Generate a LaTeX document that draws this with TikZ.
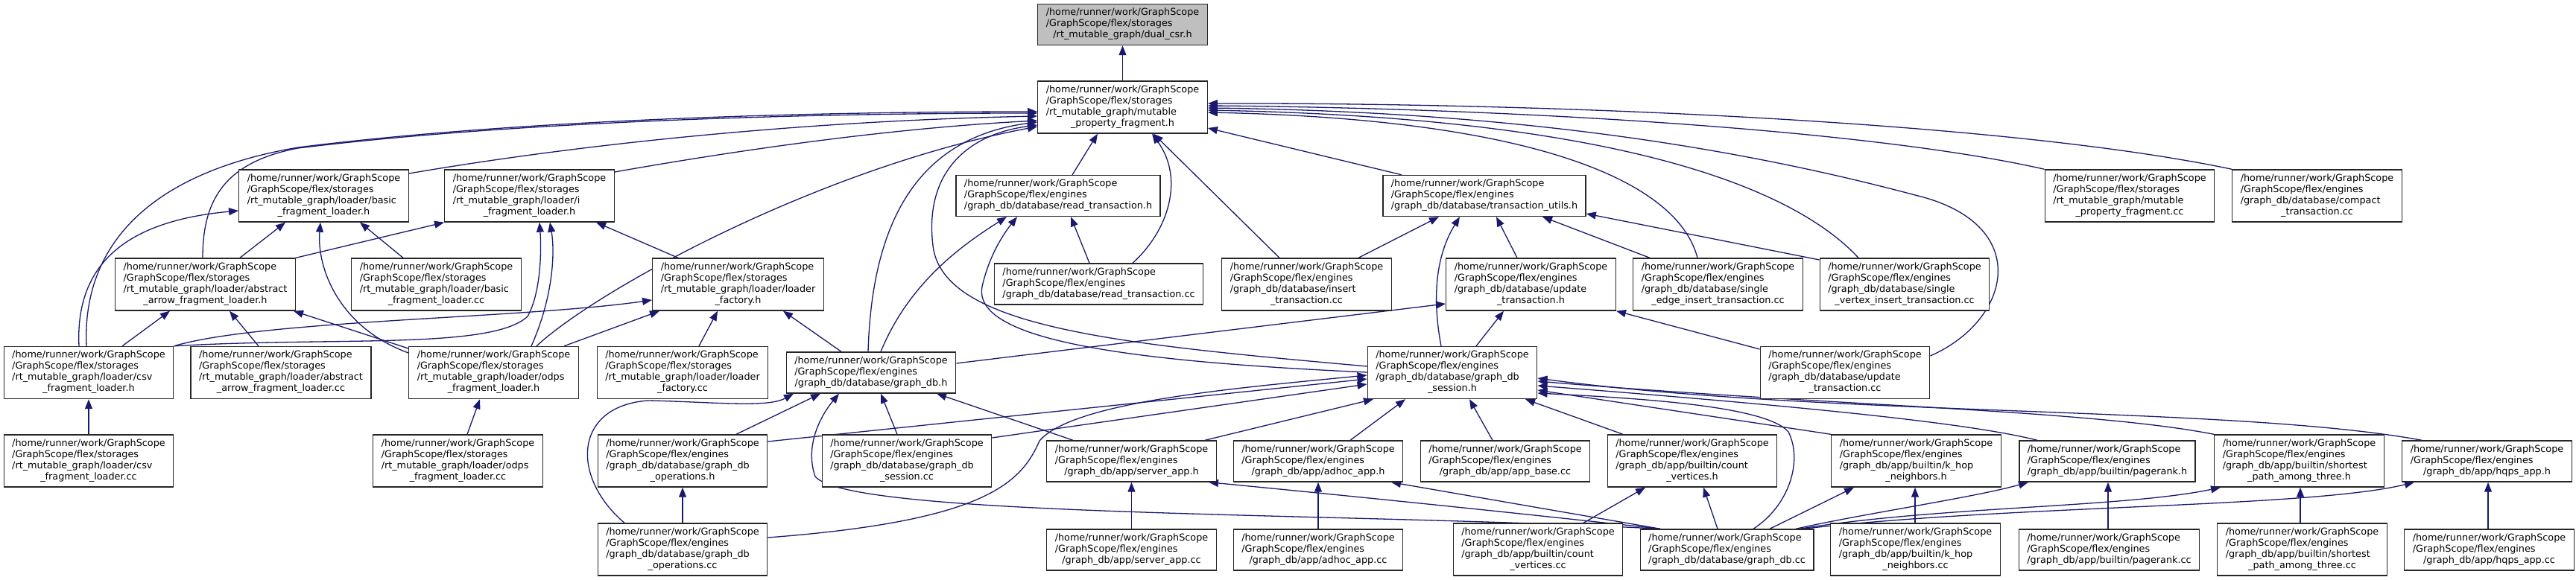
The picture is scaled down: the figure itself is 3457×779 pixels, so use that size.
\documentclass[tikz,border=0pt]{standalone}
\usepackage{fontspec}
\setmainfont{DejaVu Sans}
\usepackage{tikz}
\usetikzlibrary{arrows.meta,calc,backgrounds}
\definecolor{edgec}{RGB}{25,25,112}
\definecolor{hlfill}{RGB}{191,191,191}
\newcommand{\gs}{/home/runner/work/GraphScope}
\newcommand{\fst}{/GraphScope/flex/storages}
\newcommand{\fen}{/GraphScope/flex/engines}
\newcommand{\fpath}[1]{\begin{tabular}{@{}l@{}}#1\end{tabular}}
\newcommand{\lastln}[1]{\multicolumn{1}{@{}c@{}}{#1}}
\tikzset{
  file/.style={draw=black!85,line width=0.7pt,fill=white,inner xsep=5.5pt,inner ysep=2.5pt,
    font=\fontsize{6.4}{7.5}\selectfont},
  cur/.style={file,fill=hlfill},
}

\begin{document}
\begin{tikzpicture}[x=0.5pt,y=-0.5pt,
  ar/.style={-{Triangle[length=6.5pt,width=5pt]},draw=edgec,line width=0.65pt}]
  \useasboundingbox (0,0) rectangle (3457,779);
  % headers and sources, one row per rank
  \node[cur] (dualcsr) at (1506.5,33) {\fpath{\gs\\\fst\\\lastln{/rt\_mutable\_graph/dual\_csr.h}}};
  \node[file] (mpf) at (1506.5,144) {\fpath{\gs\\\fst\\/rt\_mutable\_graph/mutable\\\lastln{\_property\_fragment.h}}};

  \node[file] (basicH) at (434.5,263) {\fpath{\gs\\\fst\\/rt\_mutable\_graph/loader/basic\\\lastln{\_fragment\_loader.h}}};
  \node[file] (iflH) at (710.5,263) {\fpath{\gs\\\fst\\/rt\_mutable\_graph/loader/i\\\lastln{\_fragment\_loader.h}}};
  \node[file] (rtH) at (1420,263) {\fpath{\gs\\\fen\\\lastln{/graph\_db/database/read\_transaction.h}}};
  \node[file] (tuH) at (1992,263) {\fpath{\gs\\\fen\\\lastln{/graph\_db/database/transaction\_utils.h}}};
  \node[file] (mpfCC) at (2858,263) {\fpath{\gs\\\fst\\/rt\_mutable\_graph/mutable\\\lastln{\_property\_fragment.cc}}};
  \node[file] (compactCC) at (3109.5,263) {\fpath{\gs\\\fen\\/graph\_db/database/compact\\\lastln{\_transaction.cc}}};

  \node[file] (abstractH) at (275.5,382) {\fpath{\gs\\\fst\\/rt\_mutable\_graph/loader/abstract\\\lastln{\_arrow\_fragment\_loader.h}}};
  \node[file] (basicCC) at (585.5,382) {\fpath{\gs\\\fst\\/rt\_mutable\_graph/loader/basic\\\lastln{\_fragment\_loader.cc}}};
  \node[file] (lfH) at (990.5,382) {\fpath{\gs\\\fst\\/rt\_mutable\_graph/loader/loader\\\lastln{\_factory.h}}};
  \node[file] (rtCC) at (1474.5,381.5) {\fpath{\gs\\\fen\\\lastln{/graph\_db/database/read\_transaction.cc}}};
  \node[file] (insertCC) at (1753.5,382) {\fpath{\gs\\\fen\\/graph\_db/database/insert\\\lastln{\_transaction.cc}}};
  \node[file] (updateH) at (2054.5,382) {\fpath{\gs\\\fen\\/graph\_db/database/update\\\lastln{\_transaction.h}}};
  \node[file] (seCC) at (2305.5,382) {\fpath{\gs\\\fen\\/graph\_db/database/single\\\lastln{\_edge\_insert\_transaction.cc}}};
  \node[file] (svCC) at (2556,382) {\fpath{\gs\\\fen\\/graph\_db/database/single\\\lastln{\_vertex\_insert\_transaction.cc}}};

  \node[file] (csvH) at (119,500.5) {\fpath{\gs\\\fst\\/rt\_mutable\_graph/loader/csv\\\lastln{\_fragment\_loader.h}}};
  \node[file] (abstractCC) at (377,500.5) {\fpath{\gs\\\fst\\/rt\_mutable\_graph/loader/abstract\\\lastln{\_arrow\_fragment\_loader.cc}}};
  \node[file] (odpsH) at (662.5,500.5) {\fpath{\gs\\\fst\\/rt\_mutable\_graph/loader/odps\\\lastln{\_fragment\_loader.h}}};
  \node[file] (lfCC) at (916,500.5) {\fpath{\gs\\\fst\\/rt\_mutable\_graph/loader/loader\\\lastln{\_factory.cc}}};
  \node[file] (gdbH) at (1169,500.5) {\fpath{\gs\\\fen\\\lastln{/graph\_db/database/graph\_db.h}}};
  \node[file] (sessH) at (1949,500.5) {\fpath{\gs\\\fen\\/graph\_db/database/graph\_db\\\lastln{\_session.h}}};
  \node[file] (updateCC) at (2476,500.5) {\fpath{\gs\\\fen\\/graph\_db/database/update\\\lastln{\_transaction.cc}}};

  \node[file] (csvCC) at (119,619) {\fpath{\gs\\\fst\\/rt\_mutable\_graph/loader/csv\\\lastln{\_fragment\_loader.cc}}};
  \node[file] (odpsCC) at (614.5,619) {\fpath{\gs\\\fst\\/rt\_mutable\_graph/loader/odps\\\lastln{\_fragment\_loader.cc}}};
  \node[file] (opsH) at (916,619) {\fpath{\gs\\\fen\\/graph\_db/database/graph\_db\\\lastln{\_operations.h}}};
  \node[file] (sessCC) at (1217,619) {\fpath{\gs\\\fen\\/graph\_db/database/graph\_db\\\lastln{\_session.cc}}};
  \node[file] (serverH) at (1518.5,619.5) {\fpath{\gs\\\fen\\\lastln{/graph\_db/app/server\_app.h}}};
  \node[file] (adhocH) at (1769,619.5) {\fpath{\gs\\\fen\\\lastln{/graph\_db/app/adhoc\_app.h}}};
  \node[file] (appbaseCC) at (2020,619.5) {\fpath{\gs\\\fen\\\lastln{/graph\_db/app/app\_base.cc}}};
  \node[file] (countH) at (2271,619) {\fpath{\gs\\\fen\\/graph\_db/app/builtin/count\\\lastln{\_vertices.h}}};
  \node[file] (khopH) at (2571.5,619) {\fpath{\gs\\\fen\\/graph\_db/app/builtin/k\_hop\\\lastln{\_neighbors.h}}};
  \node[file] (pagerankH) at (2828,619.5) {\fpath{\gs\\\fen\\\lastln{/graph\_db/app/builtin/pagerank.h}}};
  \node[file] (shortestH) at (3085.5,619) {\fpath{\gs\\\fen\\/graph\_db/app/builtin/shortest\\\lastln{\_path\_among\_three.h}}};
  \node[file] (hqpsH) at (3337.5,619.5) {\fpath{\gs\\\fen\\\lastln{/graph\_db/app/hqps\_app.h}}};

  \node[file] (opsCC) at (916,738) {\fpath{\gs\\\fen\\/graph\_db/database/graph\_db\\\lastln{\_operations.cc}}};
  \node[file] (serverCC) at (1518.5,738.5) {\fpath{\gs\\\fen\\\lastln{/graph\_db/app/server\_app.cc}}};
  \node[file] (adhocCC) at (1769,738.5) {\fpath{\gs\\\fen\\\lastln{/graph\_db/app/adhoc\_app.cc}}};
  \node[file] (countCC) at (2064,738) {\fpath{\gs\\\fen\\/graph\_db/app/builtin/count\\\lastln{\_vertices.cc}}};
  \node[file] (gdbCC) at (2317.5,738.5) {\fpath{\gs\\\fen\\\lastln{/graph\_db/database/graph\_db.cc}}};
  \node[file] (khopCC) at (2570.5,738) {\fpath{\gs\\\fen\\/graph\_db/app/builtin/k\_hop\\\lastln{\_neighbors.cc}}};
  \node[file] (pagerankCC) at (2830.5,738.5) {\fpath{\gs\\\fen\\\lastln{/graph\_db/app/builtin/pagerank.cc}}};
  \node[file] (shortestCC) at (3089.5,738) {\fpath{\gs\\\fen\\/graph\_db/app/builtin/shortest\\\lastln{\_path\_among\_three.cc}}};
  \node[file] (hqpsCC) at (3340.5,738.5) {\fpath{\gs\\\fen\\\lastln{/graph\_db/app/hqps\_app.cc}}};

  \begin{scope}[on background layer]
  \draw[ar] (mpf) -- (dualcsr);
  % into mutable_property_fragment.h
  \draw[ar] (csvH.north -| 116,0) .. controls (110,330) and (200,232) .. (400,198) .. controls (700,160) and (1100,150) .. (mpf.west |- 0,150);
  \draw[ar] (abstractH.north -| 272,0) .. controls (272,270) and (300,218) .. (400,199) .. controls (700,162) and (1100,152) .. (mpf.west |- 0,152);
  \draw[ar] (basicH.east |- 0,233) .. controls (800,190) and (1100,162) .. (mpf.west |- 0,156);
  \draw[ar] (iflH.east |- 0,231) .. controls (1000,200) and (1200,172) .. (mpf.west |- 0,162);
  \draw[ar] (odpsH.north -| 720,0) .. controls (800,390) and (1100,225) .. (mpf.west |- 0,170);
  \draw[ar] (gdbH.north -| 1165,0) .. controls (1170,300) and (1230,185) .. (mpf.west |- 0,164);
  \draw[ar] (sessH.west |- 0,492) .. controls (1500,462) and (1265,440) .. (1252,330) .. controls (1240,230) and (1300,180) .. (mpf.west |- 0,168);
  \draw[ar] (rtH.north -| 1439,0) -- (mpf.south -| 1473,0);
  \draw[ar] (rtCC.north -| 1520,0) .. controls (1568,310) and (1590,240) .. (mpf.south -| 1546,0);
  \draw[ar] (insertCC.north -| 1717,0) -- (mpf.south -| 1548,0);
  \draw[ar] (tuH.north -| 1881,0) -- (mpf.east |- 0,172);
  \draw[ar] (seCC.north -| 2278,0) .. controls (2250,240) and (2050,160) .. (mpf.east |- 0,151);
  \draw[ar] (svCC.north -| 2494,0) .. controls (2400,245) and (2150,158) .. (mpf.east |- 0,148);
  \draw[ar] (updateCC.east |- 0,478) .. controls (2700,430) and (2730,300) .. (2570,262) .. controls (2300,190) and (2000,150) .. (mpf.east |- 0,145);
  \draw[ar] (mpfCC.north west) .. controls (2500,172) and (2000,145) .. (mpf.east |- 0,142);
  \draw[ar] (compactCC.north west) .. controls (2700,165) and (2100,138) .. (mpf.east |- 0,139);
  % loaders
  \draw[ar] (csvH.north -| 106,0) .. controls (100,340) and (190,295) .. (basicH.west |- 0,283);
  \draw[ar] (abstractH.north -| 322,0) -- (basicH.south -| 383,0);
  \draw[ar] (odpsH.west |- 0,474) .. controls (455,440) and (425,360) .. (basicH.south -| 430,0);
  \draw[ar] (basicCC.north -| 541,0) -- (basicH.south -| 483,0);
  \draw[ar] (abstractH.north east) -- (iflH.south west);
  \draw[ar] (csvH.north east) .. controls (450,452) and (660,470) .. (708,425) .. controls (725,395) and (727,340) .. (iflH.south -| 724,0);
  \draw[ar] (odpsH.north -| 713,0) .. controls (742,400) and (745,340) .. (iflH.south -| 738,0);
  \draw[ar] (lfH.north -| 910,0) -- (iflH.south -| 800,0);
  \draw[ar] (csvH.north -| 164,0) -- (abstractH.south -| 228,0);
  \draw[ar] (abstractCC.north -| 347,0) -- (abstractH.south -| 308,0);
  \draw[ar] (odpsH.west |- 0,468) -- (abstractH.south -| 394,0);
  \draw[ar] (csvH.north east) .. controls (350,430) and (700,428) .. (lfH.west |- 0,403);
  \draw[ar] (odpsH.north -| 757,0) -- (lfH.south -| 885,0);
  \draw[ar] (lfCC.north -| 938,0) -- (lfH.south -| 963,0);
  \draw[ar] (gdbH.north -| 1129,0) -- (lfH.south -| 1051,0);
  \draw[ar] (csvCC) -- (csvH);
  \draw[ar] (odpsCC.north -| 627,0) -- (odpsH.south -| 644,0);
  % transactions
  \draw[ar] (gdbH.north -| 1182,0) .. controls (1220,380) and (1290,330) .. (rtH.south -| 1351,0);
  \draw[ar] (sessH.west |- 0,500) .. controls (1500,485) and (1305,455) .. (1318,385) .. controls (1328,340) and (1350,310) .. (rtH.south -| 1365,0);
  \draw[ar] (rtCC.north -| 1462,0) -- (rtH.south -| 1437,0);
  \draw[ar] (insertCC.north -| 1823,0) -- (tuH.south -| 1931,0);
  \draw[ar] (sessH.north -| 1934,0) .. controls (1918,380) and (1935,330) .. (tuH.south -| 1959,0);
  \draw[ar] (updateH.north -| 2036,0) -- (tuH.south -| 2008,0);
  \draw[ar] (seCC.north -| 2214,0) -- (tuH.south -| 2070,0);
  \draw[ar] (svCC.west |- 0,349) -- (tuH.east |- 0,287);
  \draw[ar] (gdbH.east |- 0,488) -- (updateH.west |- 0,408);
  \draw[ar] (sessH.north -| 1981,0) -- (updateH.south -| 2018,0);
  \draw[ar] (updateCC.west |- 0,469) -- (updateH.south east);
  % graph_db.h
  \draw[ar] (opsH.north -| 988,0) -- (gdbH.south -| 1101,0);
  \draw[ar] (opsCC.north -| 838,0) .. controls (765,640) and (770,545) .. (870,538) .. controls (960,540) and (1030,548) .. (gdbH.south -| 1065,0);
  \draw[ar] (gdbCC.north -| 2228,0) .. controls (1800,688) and (1140,695) .. (1094,640) .. controls (1080,600) and (1100,560) .. (gdbH.south -| 1126,0);
  \draw[ar] (sessCC.north -| 1204,0) -- (gdbH.south -| 1182,0);
  \draw[ar] (serverH.north -| 1440,0) -- (gdbH.south -| 1257,0);
  \draw[ar] (opsCC) -- (opsH);
  % graph_db_session.h
  \draw[ar] (opsH.east |- 0,593) -- (sessH.west |- 0,509);
  \draw[ar] (sessCC.east |- 0,588) -- (sessH.west |- 0,516);
  \draw[ar] (opsCC.east |- 0,722) .. controls (1320,700) and (1370,650) .. (1395,592) .. controls (1440,540) and (1650,522) .. (sessH.west |- 0,504);
  \draw[ar] (serverH.north -| 1617,0) -- (sessH.south -| 1843,0);
  \draw[ar] (adhocH.north -| 1812,0) -- (sessH.south -| 1886,0);
  \draw[ar] (appbaseCC.north -| 2003,0) -- (sessH.south -| 1972,0);
  \draw[ar] (countH.north -| 2178,0) -- (sessH.south -| 2047,0);
  \draw[ar] (khopH.north west) -- (sessH.east |- 0,524);
  \draw[ar] (pagerankH.north -| 2734,0) .. controls (2650,570) and (2450,548) .. (sessH.east |- 0,518);
  \draw[ar] (shortestH.north west) .. controls (2800,550) and (2450,545) .. (sessH.east |- 0,512);
  \draw[ar] (hqpsH.north -| 3250,0) .. controls (3000,545) and (2450,560) .. (sessH.east |- 0,508);
  \draw[ar] (gdbCC.north -| 2353,0) .. controls (2400,680) and (2420,620) .. (2400,580) .. controls (2370,545) and (2200,535) .. (sessH.east |- 0,528);
  % apps
  \draw[ar] (serverCC) -- (serverH);
  \draw[ar] (gdbCC.north -| 2228,0) .. controls (2000,685) and (1750,660) .. (serverH.south -| 1622,0);
  \draw[ar] (adhocCC) -- (adhocH);
  \draw[ar] (gdbCC.north -| 2228,0) -- (adhocH.south -| 1867,0);
  \draw[ar] (countCC.north -| 2125,0) -- (countH.south -| 2208,0);
  \draw[ar] (gdbCC.north -| 2305,0) -- (countH.south -| 2286,0);
  \draw[ar] (khopCC.north -| 2570,0) -- (khopH.south -| 2570,0);
  \draw[ar] (gdbCC.north -| 2375,0) -- (khopH.south -| 2488,0);
  \draw[ar] (pagerankCC.north -| 2829,0) -- (pagerankH.south -| 2829,0);
  \draw[ar] (gdbCC.north -| 2410,0) .. controls (2500,690) and (2650,668) .. (pagerankH.south -| 2722,0);
  \draw[ar] (shortestCC.north -| 3087,0) -- (shortestH.south -| 3087,0);
  \draw[ar] (gdbCC.north -| 2415,0) .. controls (2600,680) and (2850,682) .. (shortestH.south -| 2980,0);
  \draw[ar] (hqpsCC.north -| 3339,0) -- (hqpsH.south -| 3339,0);
  \draw[ar] (gdbCC.north -| 2420,0) .. controls (2700,678) and (3100,682) .. (hqpsH.south -| 3240,0);
  \end{scope}
\end{tikzpicture}
\end{document}
